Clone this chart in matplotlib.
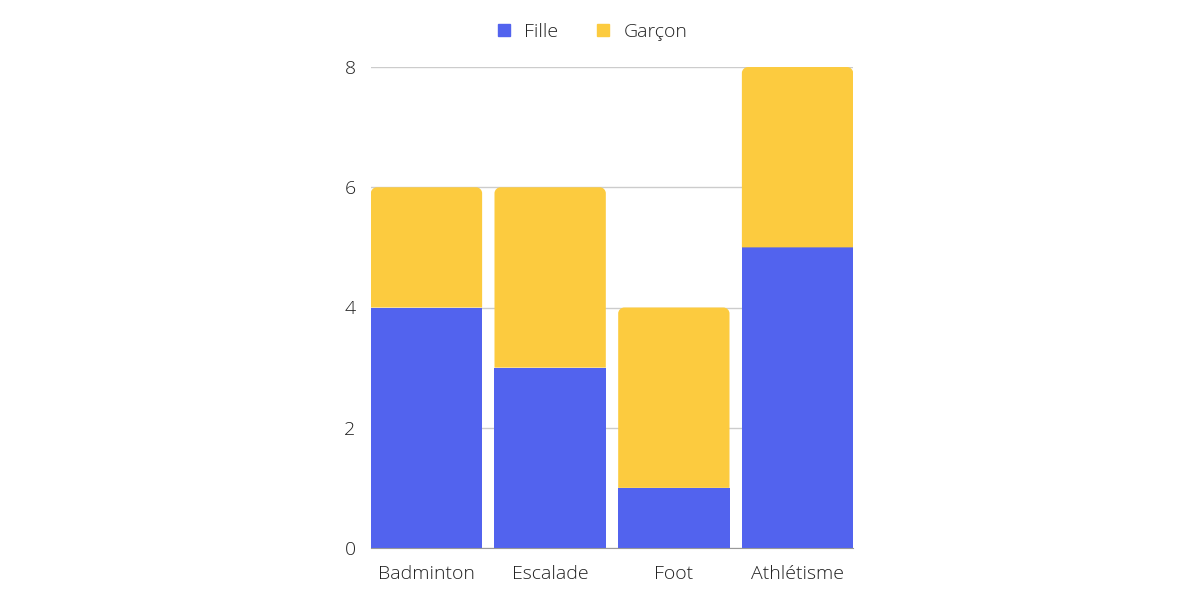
import numpy as np
import matplotlib.pyplot as plt
from matplotlib.path import Path
from matplotlib.patches import PathPatch, Patch

plt.rcParams['font.family'] = ['Open Sans', 'DejaVu Sans']

sports = ['Badminton', 'Escalade', 'Foot', 'Athlétisme']
fille = [4, 3, 1, 5]
garcon = [2, 3, 3, 3]

c_fille = '#5263EE'
c_garcon = '#FCCB3F'

fig = plt.figure(figsize=(12, 6), dpi=100)
ax = fig.add_axes([0.309, 0.0867, 0.402, 0.8016])

xx = np.arange(len(sports))
w = 0.9
ax.set_xlim(-0.45, len(sports) - 0.55)
ax.set_ylim(0, 8)

ax.bar(xx, fille, width=w, color=c_fille, zorder=2)

# segment du haut avec coins arrondis
rx, ry = 0.05, 0.1
k = 0.55
for x, b, h in zip(xx, fille, garcon):
    x0, x1 = x - w/2, x + w/2
    y0, y1 = b, b + h
    verts = [(x0, y0), (x0, y1 - ry),
             (x0, y1 - ry + k*ry), (x0 + rx - k*rx, y1), (x0 + rx, y1),
             (x1 - rx, y1),
             (x1 - rx + k*rx, y1), (x1, y1 - ry + k*ry), (x1, y1 - ry),
             (x1, y0), (x0, y0)]
    codes = [Path.MOVETO, Path.LINETO,
             Path.CURVE4, Path.CURVE4, Path.CURVE4,
             Path.LINETO,
             Path.CURVE4, Path.CURVE4, Path.CURVE4,
             Path.LINETO, Path.CLOSEPOLY]
    ax.add_patch(PathPatch(Path(verts, codes), facecolor=c_garcon, edgecolor='none', zorder=2))

ax.set_yticks([0, 2, 4, 6, 8])
ax.set_xticks(xx)
ax.set_xticklabels(sports)
ax.tick_params(axis='both', length=0, labelsize=14, colors='#222222')
ax.tick_params(axis='y', pad=11)
ax.tick_params(axis='x', pad=12)
for lab in ax.get_xticklabels() + ax.get_yticklabels():
    lab.set_fontweight('light')

ax.grid(axis='y', color='#cccccc', linewidth=1, zorder=0)
ax.set_axisbelow(True)
for s in ['top', 'right', 'left']:
    ax.spines[s].set_visible(False)
ax.spines['bottom'].set_color('#999999')
ax.spines['bottom'].set_zorder(3)

handles = [Patch(color=c_fille, label='Fille'), Patch(color=c_garcon, label='Garçon')]
leg = fig.legend(handles=handles, loc='center', bbox_to_anchor=(0.494, 0.947), ncol=2,
                 frameon=False, fontsize=14, handlelength=0.6, handleheight=0.6,
                 columnspacing=2.0, handletextpad=0.75)
for t in leg.get_texts():
    t.set_color('#222222')
    t.set_fontweight('light')

fig.savefig('out.png', dpi=100)
